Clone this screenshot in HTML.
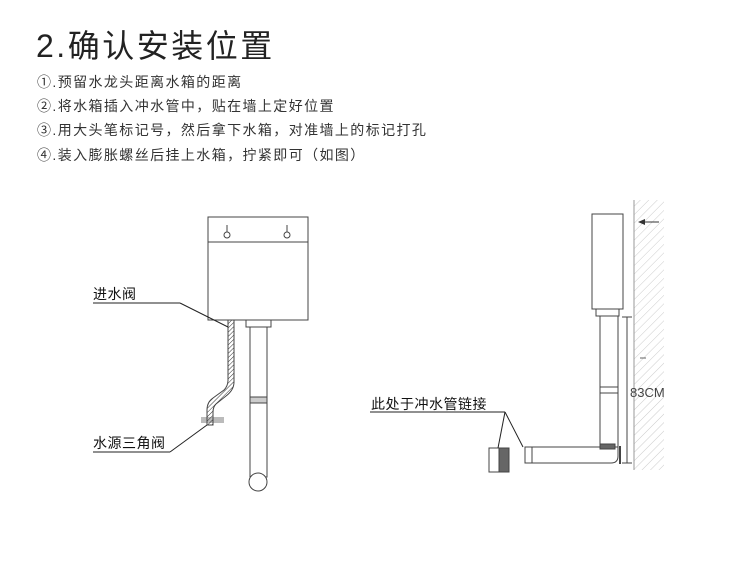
<!DOCTYPE html>
<html><head><meta charset="utf-8"><style>
body{margin:0;background:#fff;width:750px;height:574px;overflow:hidden;font-family:"Liberation Sans","Noto Sans CJK SC",sans-serif}
</style></head><body>
<svg width="750" height="574" viewBox="0 0 750 574" xmlns="http://www.w3.org/2000/svg" font-family="Liberation Sans, Noto Sans CJK SC, sans-serif">
<defs>
<pattern id="h" width="6" height="6" patternUnits="userSpaceOnUse" patternTransform="rotate(45)"><line x1="0" y1="0" x2="0" y2="6" stroke="#ccc" stroke-width="1"/></pattern>
<pattern id="hh" width="3" height="3" patternUnits="userSpaceOnUse" patternTransform="rotate(45)"><line x1="0" y1="0" x2="0" y2="3" stroke="#333" stroke-width="1"/></pattern>
</defs>
<text x="36" y="57" font-size="32" letter-spacing="2.5" fill="#222">2.确认安装位置</text>
<g font-size="14" letter-spacing="1.4" fill="#333">
<text x="37" y="87">①.预留水龙头距离水箱的距离</text>
<text x="37" y="111">②.将水箱插入冲水管中，贴在墙上定好位置</text>
<text x="37" y="135">③.用大头笔标记号，然后拿下水箱，对准墙上的标记打孔</text>
<text x="37" y="160">④.装入膨胀螺丝后挂上水箱，拧紧即可（如图）</text>
</g>
<g stroke="#444" stroke-width="1" fill="#fff">
<rect x="208" y="217" width="100" height="103"/>
<line x1="208" y1="242" x2="308" y2="242"/>
<circle cx="227" cy="235" r="3"/><line x1="227" y1="225" x2="227" y2="232"/>
<circle cx="287" cy="235" r="3"/><line x1="287" y1="225" x2="287" y2="232"/>
<rect x="246" y="320" width="25" height="7"/>
<rect x="250" y="327" width="17" height="150"/>
<rect x="250" y="397" width="17" height="6" fill="#ccc"/>
<circle cx="258" cy="482" r="9"/>
<rect x="201" y="417" width="23" height="6" fill="#bbb" stroke="none"/>
<path d="M228 320 L234 320 L234 382 Q234 390 226 396 L216 404 Q213 407 213 412 L213 425 L207 425 L207 410 Q207 402 213 398 L224 390 Q228 386 228 380 Z" fill="url(#hh)"/>
<line x1="93" y1="303" x2="180" y2="303" stroke="#222"/>
<line x1="180" y1="303" x2="228" y2="327" stroke="#222"/>
<line x1="93" y1="452" x2="170" y2="452" stroke="#222"/>
<line x1="170" y1="452" x2="207" y2="425" stroke="#222"/>
<rect x="634" y="200" width="30" height="270" fill="url(#h)" stroke="none"/>
<line x1="634" y1="200" x2="634" y2="470" stroke="#999"/>
<rect x="592" y="214" width="31" height="95"/>
<rect x="596" y="309" width="23" height="7"/>
<rect x="600" y="316" width="18" height="140"/>
<rect x="600" y="387" width="18" height="6"/>
<path d="M532 447 L618 447 L618 456 Q618 463 611 463 L532 463 Z"/>
<rect x="525" y="447" width="7" height="16"/>
<rect x="600" y="444" width="15" height="5" fill="#666"/>
<line x1="620" y1="446" x2="620" y2="464" stroke-width="2"/>
<line x1="627" y1="317" x2="627" y2="463"/>
<line x1="622" y1="317" x2="632" y2="317"/><line x1="622" y1="463" x2="632" y2="463"/>
<rect x="489" y="448" width="10" height="24"/>
<rect x="499" y="448" width="10" height="24" fill="#666"/>
<line x1="370" y1="412" x2="505" y2="412" stroke="#222"/>
<line x1="505" y1="412" x2="498" y2="448" stroke="#222"/>
<line x1="505" y1="412" x2="523" y2="447" stroke="#222"/>
<line x1="644" y1="222" x2="659" y2="222" stroke="#333"/>
<line x1="640" y1="358" x2="646" y2="358" stroke="#666"/>
</g>
<path d="M638 222 L645 219 L645 225 Z" fill="#333"/>
<text x="630" y="397" font-size="13" fill="#444">83CM</text>
<g font-size="14" letter-spacing="0.5" fill="#111">
<text x="93" y="299">进水阀</text>
<text x="93" y="448">水源三角阀</text>
<text x="371" y="409">此处于冲水管链接</text>
</g>
</svg>
</body></html>
